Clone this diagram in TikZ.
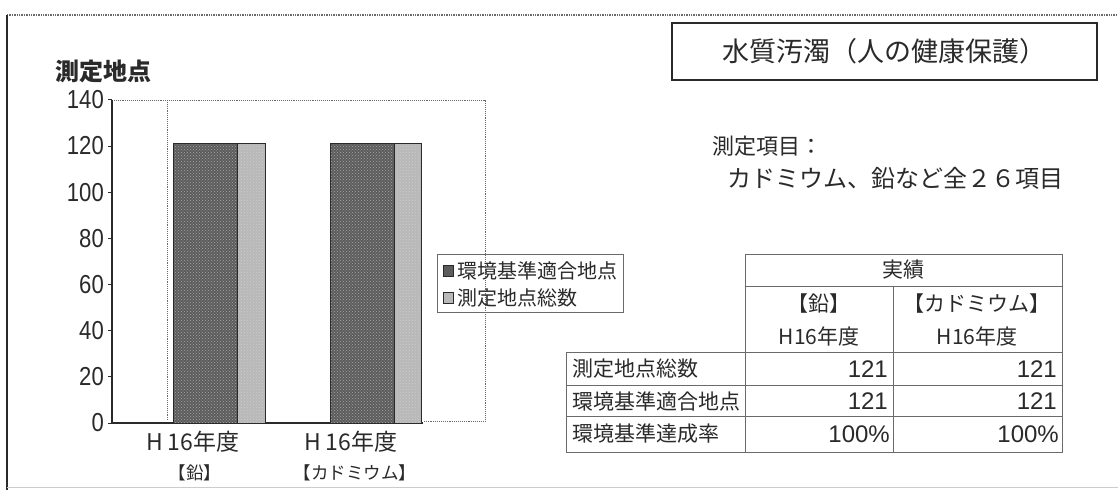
\documentclass[tikz,border=0pt]{standalone}
\usepackage{fontspec}
\setmainfont{Noto Sans CJK JP}
\newfontfamily\axisfont{Liberation Sans}[FakeStretch=0.85]
\newfontfamily\numfont{Liberation Sans}
\usetikzlibrary{patterns}
\definecolor{ink}{HTML}{2A2A2A}
\definecolor{darkbar}{HTML}{5C5C5C}
\definecolor{lightbar}{HTML}{B8B8B8}
\definecolor{framegray}{HTML}{6A6A6A}
\tikzset{
  ytick/.style={font=\axisfont\fontsize{26}{26}\selectfont, text=ink, anchor=east, inner sep=0pt},
  catlab/.style={font=\fontsize{23}{23}\selectfont, text=ink, inner sep=0pt},
  catsub/.style={font=\fontsize{17.5}{17.5}\selectfont, text=ink, inner sep=0pt},
  darkfill/.style={fill=darkbar, draw=ink, line width=0.8pt},
  lightfill/.style={fill=lightbar, draw=ink, line width=0.8pt},
  legtext/.style={font=\fontsize{20}{20}\selectfont, text=ink, anchor=west, inner sep=0pt},
  tabtext/.style={font=\fontsize{21}{21}\selectfont, text=ink, inner sep=0pt},
  tabnum/.style={font=\numfont\fontsize{24}{24}\selectfont, text=ink, anchor=east, inner sep=0pt},
  tabline/.style={draw=framegray, line width=0.9pt},
}
\begin{document}
\begin{tikzpicture}[x=1pt, y=-1pt]
\useasboundingbox (0,0) rectangle (1118,490);
\fill[white] (0,0) rectangle (1118,490);

% outer frame
\draw[framegray, densely dotted, line width=1.4pt] (7,15) -- (1118,15);
\draw[ink, line width=1.2pt] (7,15) -- (7,490);
\draw[gray!40, line width=1pt] (7,487) -- (1118,487);

% y-axis title
\node[font=\bfseries\fontsize{24}{24}\selectfont, text=ink, anchor=west, inner sep=0pt] (ytitle) at (55,71) {測定地点};

% plot area
\draw[framegray, densely dotted, line width=0.9pt] (112,100) -- (485,100) -- (485,421) -- (423,421);
\draw[framegray, densely dotted, line width=0.9pt] (167,100) -- (167,421);
\draw[ink, line width=1.1pt] (112,100) -- (112,423) -- (423,423);

% ticks and labels
\foreach \v [count=\i] in {0,20,40,60,80,100,120,140} {
  \pgfmathsetmacro{\yy}{423-\v*2.3083}
  \draw[ink, line width=0.9pt] (108,\yy) -- (112,\yy);
  \node[ytick] (tick\i) at (104,\yy) {\v};
}

% bars (value 121)
\pgfmathsetmacro{\ytop}{423-121*2.3083}
\draw[darkfill] (173,423) rectangle (237,\ytop);
\draw[lightfill] (237,423) rectangle (265,\ytop);
\draw[darkfill] (330,423) rectangle (394,\ytop);
\draw[lightfill] (394,423) rectangle (421,\ytop);
\fill[pattern=crosshatch dots, pattern color=black!35] (174,422) rectangle (236,\ytop+1);
\fill[pattern=crosshatch dots, pattern color=black!20] (238,422) rectangle (264,\ytop+1);
\fill[pattern=crosshatch dots, pattern color=black!35] (331,422) rectangle (393,\ytop+1);
\fill[pattern=crosshatch dots, pattern color=black!20] (395,422) rectangle (420,\ytop+1);

% category labels
\node[catlab] (cat1) at (193,442) {H\hspace{4pt}16年度};
\node[catsub] (sub1) at (195,473) {【鉛】};
\node[catlab] (cat2) at (351,442) {H\hspace{4pt}16年度};
\node[catsub] (sub2) at (355,473) {【カドミウム】};

% legend
\draw[framegray, line width=0.9pt] (437,254) rectangle (623,312);
\draw[darkfill, line width=0.5pt] (443,265) rectangle (453,276);
\draw[lightfill, line width=0.5pt] (443,292) rectangle (453,303);
\node[legtext] (leg1) at (457,271) {環境基準適合地点};
\node[legtext] (leg2) at (457,298) {測定地点総数};

% title box
\node[draw=ink, line width=1.2pt, minimum width=425pt, minimum height=57pt, inner sep=0pt,
      font=\fontsize{27}{27}\selectfont, text=ink] (title) at (884.5,51.5) {水質汚濁（人の健康保護）};

% measured items
\node[font=\fontsize{22}{22}\selectfont, text=ink, anchor=west, inner sep=0pt] (items) at (712,146) {測定項目：};
\node[font=\fontsize{24}{24}\selectfont, text=ink, anchor=west, inner sep=0pt] (itemlist) at (727,178) {カドミウム、鉛など全２６項目};

% table
\draw[tabline] (745,254) rectangle (1062,452);
\draw[tabline] (566,352) rectangle (745,452);
\draw[tabline] (745,286) -- (1062,286);
\draw[tabline] (893,286) -- (893,452);
\draw[tabline] (566,352) -- (1062,352);
\draw[tabline] (566,385) -- (1062,385);
\draw[tabline] (566,416) -- (1062,416);

\node[tabtext] (h0) at (903.5,270) {実績};
\node[tabtext] (h1a) at (819,304) {【鉛】};
\node[tabtext] (h1b) at (819,336) {H16年度};
\node[tabtext] (h2a) at (977,304) {【カドミウム】};
\node[tabtext] (h2b) at (977,336) {H16年度};

\node[tabtext, anchor=west] (r1) at (572,369) {測定地点総数};
\node[tabtext, anchor=west] (r2) at (572,401) {環境基準適合地点};
\node[tabtext, anchor=west] (r3) at (572,434) {環境基準達成率};

\node[tabnum] (v11) at (888,369) {121};
\node[tabnum] (v21) at (888,401) {121};
\node[tabnum] (v31) at (890,434) {100\%};
\node[tabnum] (v12) at (1057,369) {121};
\node[tabnum] (v22) at (1057,401) {121};
\node[tabnum] (v32) at (1059,434) {100\%};
\end{tikzpicture}
\end{document}
